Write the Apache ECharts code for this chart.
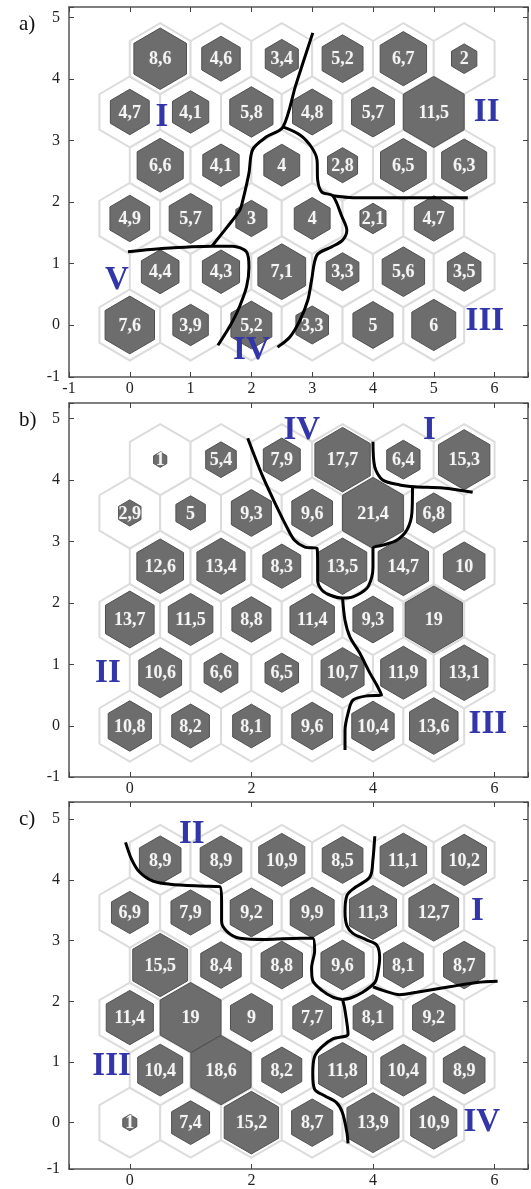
<!DOCTYPE html>
<html><head><meta charset="utf-8">
<script src="https://cdn.jsdelivr.net/npm/echarts@6/dist/echarts.min.js"></script>
<style>html,body{margin:0;padding:0;background:#fff}#c{width:531px;height:1189px}</style>
</head><body><div id="c"></div>
<script>
// ---- data: rows from bottom (row 0) to top (row 5), columns left to right ----
const hitsA = [
  [7.6, 3.9, 5.2, 3.3, 5, 6],
  [4.4, 4.3, 7.1, 3.3, 5.6, 3.5],
  [4.9, 5.7, 3, 4, 2.1, 4.7],
  [6.6, 4.1, 4, 2.8, 6.5, 6.3],
  [4.7, 4.1, 5.8, 4.8, 5.7, 11.5],
  [8.6, 4.6, 3.4, 5.2, 6.7, 2]
];
const hitsB = [
  [10.8, 8.2, 8.1, 9.6, 10.4, 13.6],
  [10.6, 6.6, 6.5, 10.7, 11.9, 13.1],
  [13.7, 11.5, 8.8, 11.4, 9.3, 19],
  [12.6, 13.4, 8.3, 13.5, 14.7, 10],
  [2.9, 5, 9.3, 9.6, 21.4, 6.8],
  [1, 5.4, 7.9, 17.7, 6.4, 15.3]
];
const hitsC = [
  [1, 7.4, 15.2, 8.7, 13.9, 10.9],
  [10.4, 18.6, 8.2, 11.8, 10.4, 8.9],
  [11.4, 19, 9, 7.7, 8.1, 9.2],
  [15.5, 8.4, 8.8, 9.6, 8.1, 8.7],
  [6.9, 7.9, 9.2, 9.9, 11.3, 12.7],
  [8.9, 8.9, 10.9, 8.5, 11.1, 10.2]
];
// cluster names and where they are written (data coordinates)
const namesA = ['I', 'II', 'III', 'IV', 'V'];
const namePosA = [[0.53, 3.38], [5.87, 3.45], [5.84, 0.05], [2.0, -0.41], [-0.21, 0.73]];
const namesB = ['IV', 'I', 'II', 'III'];
const namePosB = [[2.83, 4.81], [4.93, 4.81], [-0.36, 0.86], [5.89, 0.02]];
const namesC = ['II', 'I', 'III', 'IV'];
const namePosC = [[1.02, 4.75], [5.72, 3.48], [-0.30, 0.93], [5.79, 0.0]];
// cluster boundaries (data coordinates)
const linesA = [
  [[3.01,4.75],[2.73,3.90],[2.52,3.22],[2.25,3.06],[2.02,2.85],[1.96,2.47],[1.86,2.03],[1.81,1.87],[1.60,1.59],[1.35,1.28]],
  [[-0.03,1.19],[0.49,1.24],[1.35,1.28],[1.69,1.28],[1.92,1.19],[1.96,0.94],[1.92,0.62],[1.78,0.24],[1.64,-0.03],[1.45,-0.33]],
  [[2.52,3.22],[2.80,3.09],[2.99,2.89],[3.08,2.68],[3.09,2.36],[3.16,2.16],[3.34,2.10],[3.49,1.76],[3.57,1.54],[3.50,1.38],[3.32,1.27],[3.08,1.14],[2.99,0.73],[2.93,0.41],[2.80,0.08],[2.63,-0.20],[2.43,-0.36]],
  [[3.34,2.10],[3.67,2.07],[5.56,2.07]]
];
const linesB = [
  [[1.94,4.68],[2.19,4.05],[2.42,3.56],[2.58,3.24],[2.71,3.02],[2.88,2.91],[3.08,2.89],[3.09,2.59],[3.09,2.37],[3.16,2.21],[3.29,2.13],[3.50,2.08],[3.67,2.10],[3.90,2.24],[3.98,2.42],[4.00,2.59],[4.00,2.89],[4.16,2.94],[4.39,3.02],[4.56,3.19],[4.64,3.46],[4.65,3.89]],
  [[4.00,4.62],[4.03,4.21],[4.16,4.00],[4.44,3.92],[4.69,3.89],[5.15,3.87],[5.64,3.80]],
  [[3.50,2.08],[3.54,1.72],[3.62,1.45],[3.78,1.19],[3.95,0.86],[4.06,0.67],[4.14,0.50],[3.90,0.49],[3.67,0.42],[3.59,0.21],[3.54,-0.07],[3.54,-0.39]]
];
const linesC = [
  [[-0.07,4.62],[0.03,4.34],[0.16,4.13],[0.38,3.98],[0.66,3.93],[1.15,3.90],[1.48,3.89],[1.51,3.64],[1.51,3.32],[1.60,3.15],[1.81,3.04],[2.25,3.02],[2.80,3.04],[3.01,3.04],[3.04,2.83],[2.99,2.55],[3.01,2.34],[3.16,2.18],[3.34,2.07],[3.50,2.03]],
  [[4.03,4.72],[4.00,4.34],[3.95,4.05],[3.67,3.85],[3.57,3.74],[3.54,3.48],[3.57,3.25],[3.67,3.12],[3.90,3.01],[4.06,2.93],[4.11,2.72],[4.08,2.47],[4.03,2.31],[3.83,2.15],[3.62,2.05],[3.50,2.03]],
  [[4.00,2.24],[4.16,2.18],[4.44,2.11],[4.72,2.15],[5.26,2.24],[5.71,2.31],[6.05,2.33]],
  [[3.50,2.03],[3.54,1.85],[3.59,1.46],[3.34,1.38],[3.16,1.25],[3.04,1.09],[3.01,0.81],[3.04,0.55],[3.21,0.44],[3.40,0.33],[3.50,0.16],[3.57,-0.16],[3.59,-0.34]]
];
const panelTags = ['a)', 'b)', 'c)'];
const xTickStep = [1, 2, 2];

// ---- layout / style ----
const FONT = '"Liberation Serif","Times New Roman",serif';
const ROW_H = Math.sqrt(3) / 2;
const panels = [
  {hits: hitsA, names: namesA, namePos: namePosA, lines: linesA, top: 7, height: 370, yMin: -0.846, yMax: 5.171},
  {hits: hitsB, names: namesB, namePos: namePosB, lines: linesB, top: 403, height: 374, yMin: -0.829, yMax: 5.252},
  {hits: hitsC, names: namesC, namePos: namePosC, lines: linesC, top: 802, height: 372, yMin: -0.764, yMax: 5.285}
];
const X_MIN = -1, X_MAX = 6.55;
const near = (v, k) => Math.abs(v - Math.round(v / k) * k) < 1e-6;

function hexPts(c, hw, R) {
  return [[c[0], c[1] - R], [c[0] + hw, c[1] - R / 2], [c[0] + hw, c[1] + R / 2],
          [c[0], c[1] + R], [c[0] - hw, c[1] + R / 2], [c[0] - hw, c[1] - R / 2]];
}

const grid = [], xAxis = [], yAxis = [], series = [], title = [];
panels.forEach((p, i) => {
  grid.push({left: 69, width: 459, top: p.top, height: p.height, show: false});
  const lineStyle = {color: '#555', width: 1.5};
  const tick = {show: true, inside: true, length: 5, lineStyle: {color: '#444', width: 1}};
  const step = xTickStep[i];
  const xl = {fontFamily: FONT, fontSize: 16, color: '#222', margin: 4,
    formatter: v => near(v, step) ? String(Math.round(v)) : ''};
  xAxis.push({gridIndex: i, type: 'value', position: 'bottom', min: X_MIN, max: X_MAX,
    minInterval: step, maxInterval: step, axisLine: {show: true, onZero: false, lineStyle},
    axisTick: tick, axisLabel: xl, splitLine: {show: false}});
  xAxis.push({gridIndex: i, type: 'value', position: 'top', min: X_MIN, max: X_MAX,
    minInterval: step, maxInterval: step, axisLine: {show: true, onZero: false, lineStyle},
    axisTick: {...tick, customValues: undefined}, axisLabel: {show: false}, splitLine: {show: false}});
  const yMin = p.yMin;
  yAxis.push({gridIndex: i, type: 'value', position: 'left', min: p.yMin, max: p.yMax,
    minInterval: 1, maxInterval: 1, axisLine: {show: true, onZero: false, lineStyle},
    axisTick: tick, splitLine: {show: false},
    axisLabel: {fontFamily: FONT, fontSize: 16, color: '#222', margin: 9,
      formatter: v => near(v, 1) ? String(Math.round(v)) : (Math.abs(v - yMin) < 1e-6 ? '-1' : '')}});
  yAxis.push({gridIndex: i, type: 'value', position: 'right', min: p.yMin, max: p.yMax,
    minInterval: 1, maxInterval: 1, axisLine: {show: true, onZero: false, lineStyle},
    axisTick: tick, axisLabel: {show: false}, splitLine: {show: false}});

  const cells = [];
  let maxV = 0;
  p.hits.forEach((row, r) => row.forEach((v, c) => {
    cells.push([c + 0.5 * (r % 2), r * ROW_H, v]);
    maxV = Math.max(maxV, v);
  }));
  const xi = i * 2, yi = i * 2;
  series.push({
    type: 'custom', xAxisIndex: xi, yAxisIndex: yi, silent: true, z: 1, data: cells,
    renderItem: (params, api) => {
      const c = api.coord([api.value(0), api.value(1)]);
      const hw = api.size([1, 0])[0] / 2;
      const R = api.size([0, ROW_H])[1] / 1.5;
      return {type: 'polygon', shape: {points: hexPts(c, hw, R)},
        style: {fill: '#fff', stroke: '#dcdcdc', lineWidth: 2}};
    }
  });
  series.push({
    type: 'custom', xAxisIndex: xi, yAxisIndex: yi, silent: true, z: 2, data: cells,
    renderItem: (params, api) => {
      const v = api.value(2);
      const c = api.coord([api.value(0), api.value(1)]);
      const s = Math.sqrt(v / maxV);
      const hw = api.size([1, 0])[0] / 2 * s;
      const R = api.size([0, ROW_H])[1] / 1.5 * s;
      return {type: 'group', children: [
        {type: 'polygon', shape: {points: hexPts(c, hw, R)},
          style: {fill: '#6d6d6d', stroke: '#505050', lineWidth: 1}},
        {type: 'text', x: c[0], y: c[1] + 1,
          style: {text: String(v).replace('.', ','), fill: '#f4f4f4', stroke: '#7a7a7a', lineWidth: 1.2,
            font: 'bold 18px ' + FONT, align: 'center', verticalAlign: 'middle'}}
      ]};
    }
  });
  p.lines.forEach(l => series.push({
    type: 'line', xAxisIndex: xi, yAxisIndex: yi, data: l, smooth: 0.3, symbol: 'none',
    silent: true, z: 5, lineStyle: {color: '#000', width: 3}
  }));
  series.push({
    type: 'custom', xAxisIndex: xi, yAxisIndex: yi, silent: true, z: 6,
    data: p.names.map((n, k) => [p.namePos[k][0], p.namePos[k][1], n]),
    renderItem: (params, api) => {
      const c = api.coord([api.value(0), api.value(1)]);
      return {type: 'text', x: c[0], y: c[1],
        style: {text: p.names[params.dataIndex], fill: '#3236a8',
          font: 'bold 33px ' + FONT, align: 'center', verticalAlign: 'middle'}};
    }
  });
  title.push({text: panelTags[i], left: 14, top: p.top + 2,
    textStyle: {fontFamily: FONT, fontSize: 21, fontWeight: 'normal', color: '#111'}});
});

const chart = echarts.init(document.getElementById('c'), null, {renderer: 'canvas'});
chart.setOption({animation: false, backgroundColor: '#fff', title, grid, xAxis, yAxis, series});
</script>
</body></html>
